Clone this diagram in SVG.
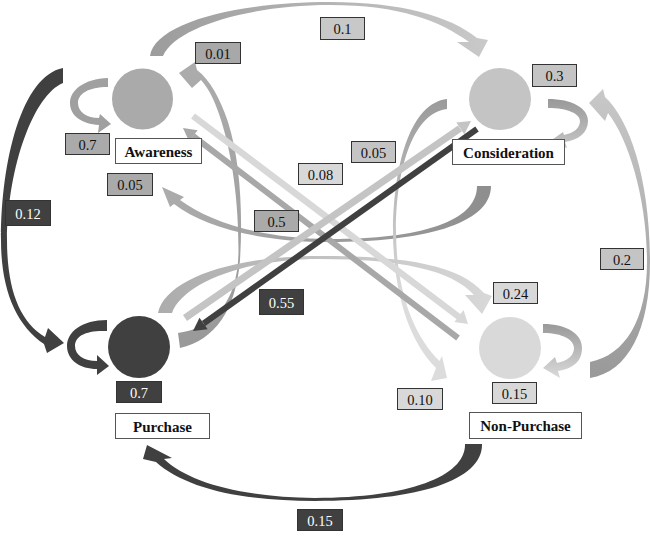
<svg xmlns="http://www.w3.org/2000/svg" width="650" height="539" viewBox="0 0 650 539">
<style>
.nb{stroke:#333;stroke-width:1}
.nt{font-family:"Liberation Serif","Times New Roman",serif;font-size:14.5px;text-anchor:middle;fill:#111}
.nw{fill:#fff}
.lb{fill:#fff;stroke:#555;stroke-width:1}
.lt{font-family:"Liberation Serif","Times New Roman",serif;font-weight:bold;font-size:15px;text-anchor:middle;fill:#111}
.dk{fill:#404040}
</style>
<defs>
<linearGradient id="gAC" gradientUnits="userSpaceOnUse" x1="150" y1="0" x2="480" y2="0"><stop offset="0" stop-color="#9c9c9c"/><stop offset="1" stop-color="#c8c8c8"/></linearGradient>
<linearGradient id="gCs" gradientUnits="userSpaceOnUse" x1="0" y1="99" x2="0" y2="148"><stop offset="0" stop-color="#999"/><stop offset="1" stop-color="#c6c6c6"/></linearGradient>
<linearGradient id="gNs" gradientUnits="userSpaceOnUse" x1="0" y1="324" x2="0" y2="378"><stop offset="0" stop-color="#999"/><stop offset="1" stop-color="#dadada"/></linearGradient>
<linearGradient id="gNC" gradientUnits="userSpaceOnUse" x1="0" y1="378" x2="0" y2="90"><stop offset="0" stop-color="#999"/><stop offset="1" stop-color="#c8c8c8"/></linearGradient>
<linearGradient id="gCA" gradientUnits="userSpaceOnUse" x1="491" y1="0" x2="162" y2="0"><stop offset="0" stop-color="#8e8e8e"/><stop offset="1" stop-color="#acacac"/></linearGradient>
<linearGradient id="gCN" gradientUnits="userSpaceOnUse" x1="0" y1="99" x2="0" y2="300"><stop offset="0" stop-color="#9a9a9a"/><stop offset="1" stop-color="#dcdcdc"/></linearGradient>
<linearGradient id="gPA" gradientUnits="userSpaceOnUse" x1="0" y1="348" x2="0" y2="62"><stop offset="0" stop-color="#999"/><stop offset="1" stop-color="#acacac"/></linearGradient>
<linearGradient id="gPN" gradientUnits="userSpaceOnUse" x1="158" y1="0" x2="492" y2="0"><stop offset="0" stop-color="#acacac"/><stop offset="1" stop-color="#d8d8d8"/></linearGradient>
</defs>
<rect width="650" height="539" fill="#fff"/>
<g id="connectors">
<!-- Awareness -> Consideration 0.1 -->
<path fill="url(#gAC)" d="M150,56 C155,22 240,2 330,2 C400,2 450,16 477,38 L488,40 L479,57 L457,42 L469,42 C440,21 400,5 330,5 C250,5 175,27 163,56 Z"/>
<!-- Awareness self 0.7 -->
<path fill="#a0a0a0" d="M108,78 C84,79 70,90 70,103 C70,116 82,124 99,125 L98,133 L111,124 L100,114 L99,118 C87,118 78,112 78,103 C78,94 88,87 108,87 Z"/>
<!-- Consideration self 0.3 -->
<path fill="url(#gCs)" d="M548,99 C572,99 588,108 588,121 C588,133 578,140 565,142 L567,148 L549,142 L563,132 L564,135 C574,133 580,128 580,121 C580,114 568,108 548,108 Z"/>
<!-- Non-Purchase self 0.15 -->
<path fill="url(#gNs)" d="M543,324 C567,324 582,334 582,348 C582,362 572,369 558,371 L560,378 L543,368 L555,357 L557,363 C567,361 574,356 574,348 C574,340 563,333 543,333 Z"/>
<!-- Purchase self 0.7 -->
<path class="dk" d="M107,320 C82,320 67,332 67,346 C67,360 80,369 97,369 L97,375 L109,366 L97,355 L97,361 C84,361 75,355 75,346 C75,336 86,330 107,331 Z"/>
<!-- Awareness -> Purchase 0.12 -->
<path class="dk" d="M63,68 L63,83 C34,95 8,165 7,240 C7,290 20,322 45,337 L48,328 L64,343 L47,353 L44,344 C16,325 1,290 1,240 C1,160 22,76 63,68 Z"/>
<!-- Non-Purchase -> Consideration 0.2 -->
<path fill="url(#gNC)" d="M590,362 L590,378 C628,372 650,330 650,262 C650,180 630,120 605,97 L603,89 L589,103 L605,121 L608,113 C629,140 647,200 647,262 C647,320 625,355 590,362 Z"/>
<!-- Non-Purchase -> Purchase 0.15 -->
<path class="dk" d="M465,444 L482,444 C483,480 420,501 315,501 C240,501 185,488 156,462 L143,459 L147,445 L172,458 L164,459 C188,482 240,497 315,498 C410,498 466,476 465,444 Z"/>
<!-- Consideration -> Awareness 0.05 -->
<path fill="url(#gCA)" d="M477,186 L491,186 C491,225 420,242 330,242 C262,242 205,228 174,204 L170,207 L162,187 L184,197 L180,200 C210,222 262,239 330,239 C420,239 477,222 477,186 Z"/>
<!-- Consideration -> Non-Purchase 0.10 -->
<path fill="url(#gCN)" d="M447,99 C412,103 394,160 393,230 C393,290 408,340 436,368 L431,381 L447,378 L442,356 L439.5,361 C413,335 396,290 396,230 C396,165 415,112 447,109 Z"/>
<!-- Purchase -> Awareness 0.01 -->
<path fill="url(#gPA)" d="M178,333 L180,348 C215,340 236,310 240,260 C243,210 240,160 228,122 C220,98 210,80 197,70 L195,62 L179,73 L192,88 L201,80 C210,90 216,104 221,120 C232,155 238.5,200 238.5,250 C238.5,300 215,328 178,333 Z"/>
<!-- Purchase -> Non-Purchase 0.24 -->
<path fill="url(#gPN)" d="M158,313 C165,280 230,256 320,256 C410,256 460,266 484,293 L492,296 L482,314 L465,295 L474,295 C452,270 400,259 320,259 C240,259 182,285 172,313 Z"/>
<!-- Awareness -> Non-Purchase 0.08 -->
<line x1="193" y1="116" x2="459" y2="317" stroke="#d8d8d8" stroke-width="6.5"/>
<polygon fill="#d8d8d8" points="468,324 454.4,322 463.5,310"/>
<!-- Non-Purchase -> Awareness 0.5 -->
<line x1="458" y1="338" x2="193" y2="136" stroke="#a8a8a8" stroke-width="6"/>
<polygon fill="#a8a8a8" points="183,128 197.6,130.3 189.1,141.5"/>
<!-- Purchase -> Consideration 0.05 -->
<line x1="185" y1="318" x2="460" y2="128.4" stroke="#c4c4c4" stroke-width="7"/>
<polygon fill="#c4c4c4" points="471,121 464.3,134.2 456.3,122.6"/>
<!-- Consideration -> Purchase 0.55 -->
<line x1="477" y1="129" x2="203.6" y2="323.5" stroke="#404040" stroke-width="6"/>
<polygon fill="#404040" points="193,331 207.7,329.2 199.5,317.8"/>
</g>
<g id="node-awareness">
<circle cx="142.5" cy="99" r="30.5" fill="#aaaaaa"/>
<rect class="lb" x="115.5" y="138.5" width="86" height="25"/>
<text class="lt" x="158.5" y="156.5">Awareness</text>
</g>
<g id="node-consideration">
<circle cx="500" cy="99" r="31" fill="#c4c4c4"/>
<rect class="lb" x="452.5" y="139.5" width="112" height="25"/>
<text class="lt" x="508.5" y="157.5">Consideration</text>
</g>
<g id="node-purchase">
<circle cx="139" cy="347" r="31" fill="#404040"/>
<rect class="lb" x="115.5" y="413.5" width="94" height="25"/>
<text class="lt" x="162.5" y="431.5">Purchase</text>
</g>
<g id="node-nonpurchase">
<circle cx="510" cy="348" r="31" fill="#d9d9d9"/>
<rect class="lb" x="469.5" y="412.5" width="112" height="26"/>
<text class="lt" x="525.5" y="430.5">Non-Purchase</text>
</g>
<g id="edge-labels">
<rect class="nb" x="320.5" y="17.5" width="44" height="22" fill="#c8c8c8"/><text class="nt" x="342.5" y="34">0.1</text>
<rect class="nb" x="195.5" y="42.5" width="45" height="21" fill="#a8a8a8"/><text class="nt" x="218" y="58.5">0.01</text>
<rect class="nb" x="532.5" y="64.5" width="44" height="22" fill="#c4c4c4"/><text class="nt" x="554.5" y="81">0.3</text>
<rect class="nb" x="65.5" y="133.5" width="44" height="21" fill="#aaaaaa"/><text class="nt" x="87.5" y="149.5">0.7</text>
<rect class="nb" x="107.5" y="173.5" width="45" height="22" fill="#aaaaaa"/><text class="nt" x="130" y="190">0.05</text>
<rect class="nb" x="5.5" y="200.5" width="45" height="25" fill="#404040"/><text class="nt nw" x="28" y="218.5">0.12</text>
<rect class="nb" x="254.5" y="210.5" width="44" height="21" fill="#aaaaaa"/><text class="nt" x="276.5" y="226.5">0.5</text>
<rect class="nb" x="298.5" y="163.5" width="44" height="21" fill="#d8d8d8"/><text class="nt" x="320.5" y="179.5">0.08</text>
<rect class="nb" x="351.5" y="141.5" width="44" height="21" fill="#c4c4c4"/><text class="nt" x="373.5" y="157.5">0.05</text>
<rect class="nb" x="259.5" y="289.5" width="44" height="25" fill="#404040"/><text class="nt nw" x="281.5" y="307.5">0.55</text>
<rect class="nb" x="600.5" y="248.5" width="43" height="21" fill="#c4c4c4"/><text class="nt" x="622" y="264.5">0.2</text>
<rect class="nb" x="493.5" y="282.5" width="44" height="21" fill="#d8d8d8"/><text class="nt" x="515.5" y="298.5">0.24</text>
<rect class="nb" x="397.5" y="388.5" width="45" height="21" fill="#d8d8d8"/><text class="nt" x="420" y="404.5">0.10</text>
<rect class="nb" x="492.5" y="382.5" width="44" height="21" fill="#d8d8d8"/><text class="nt" x="514.5" y="398.5">0.15</text>
<rect class="nb" x="116.5" y="381.5" width="45" height="21" fill="#404040"/><text class="nt nw" x="139" y="397.5">0.7</text>
<rect class="nb" x="297.5" y="509.5" width="45" height="21" fill="#404040"/><text class="nt nw" x="320" y="525.5">0.15</text>
</g>
</svg>
